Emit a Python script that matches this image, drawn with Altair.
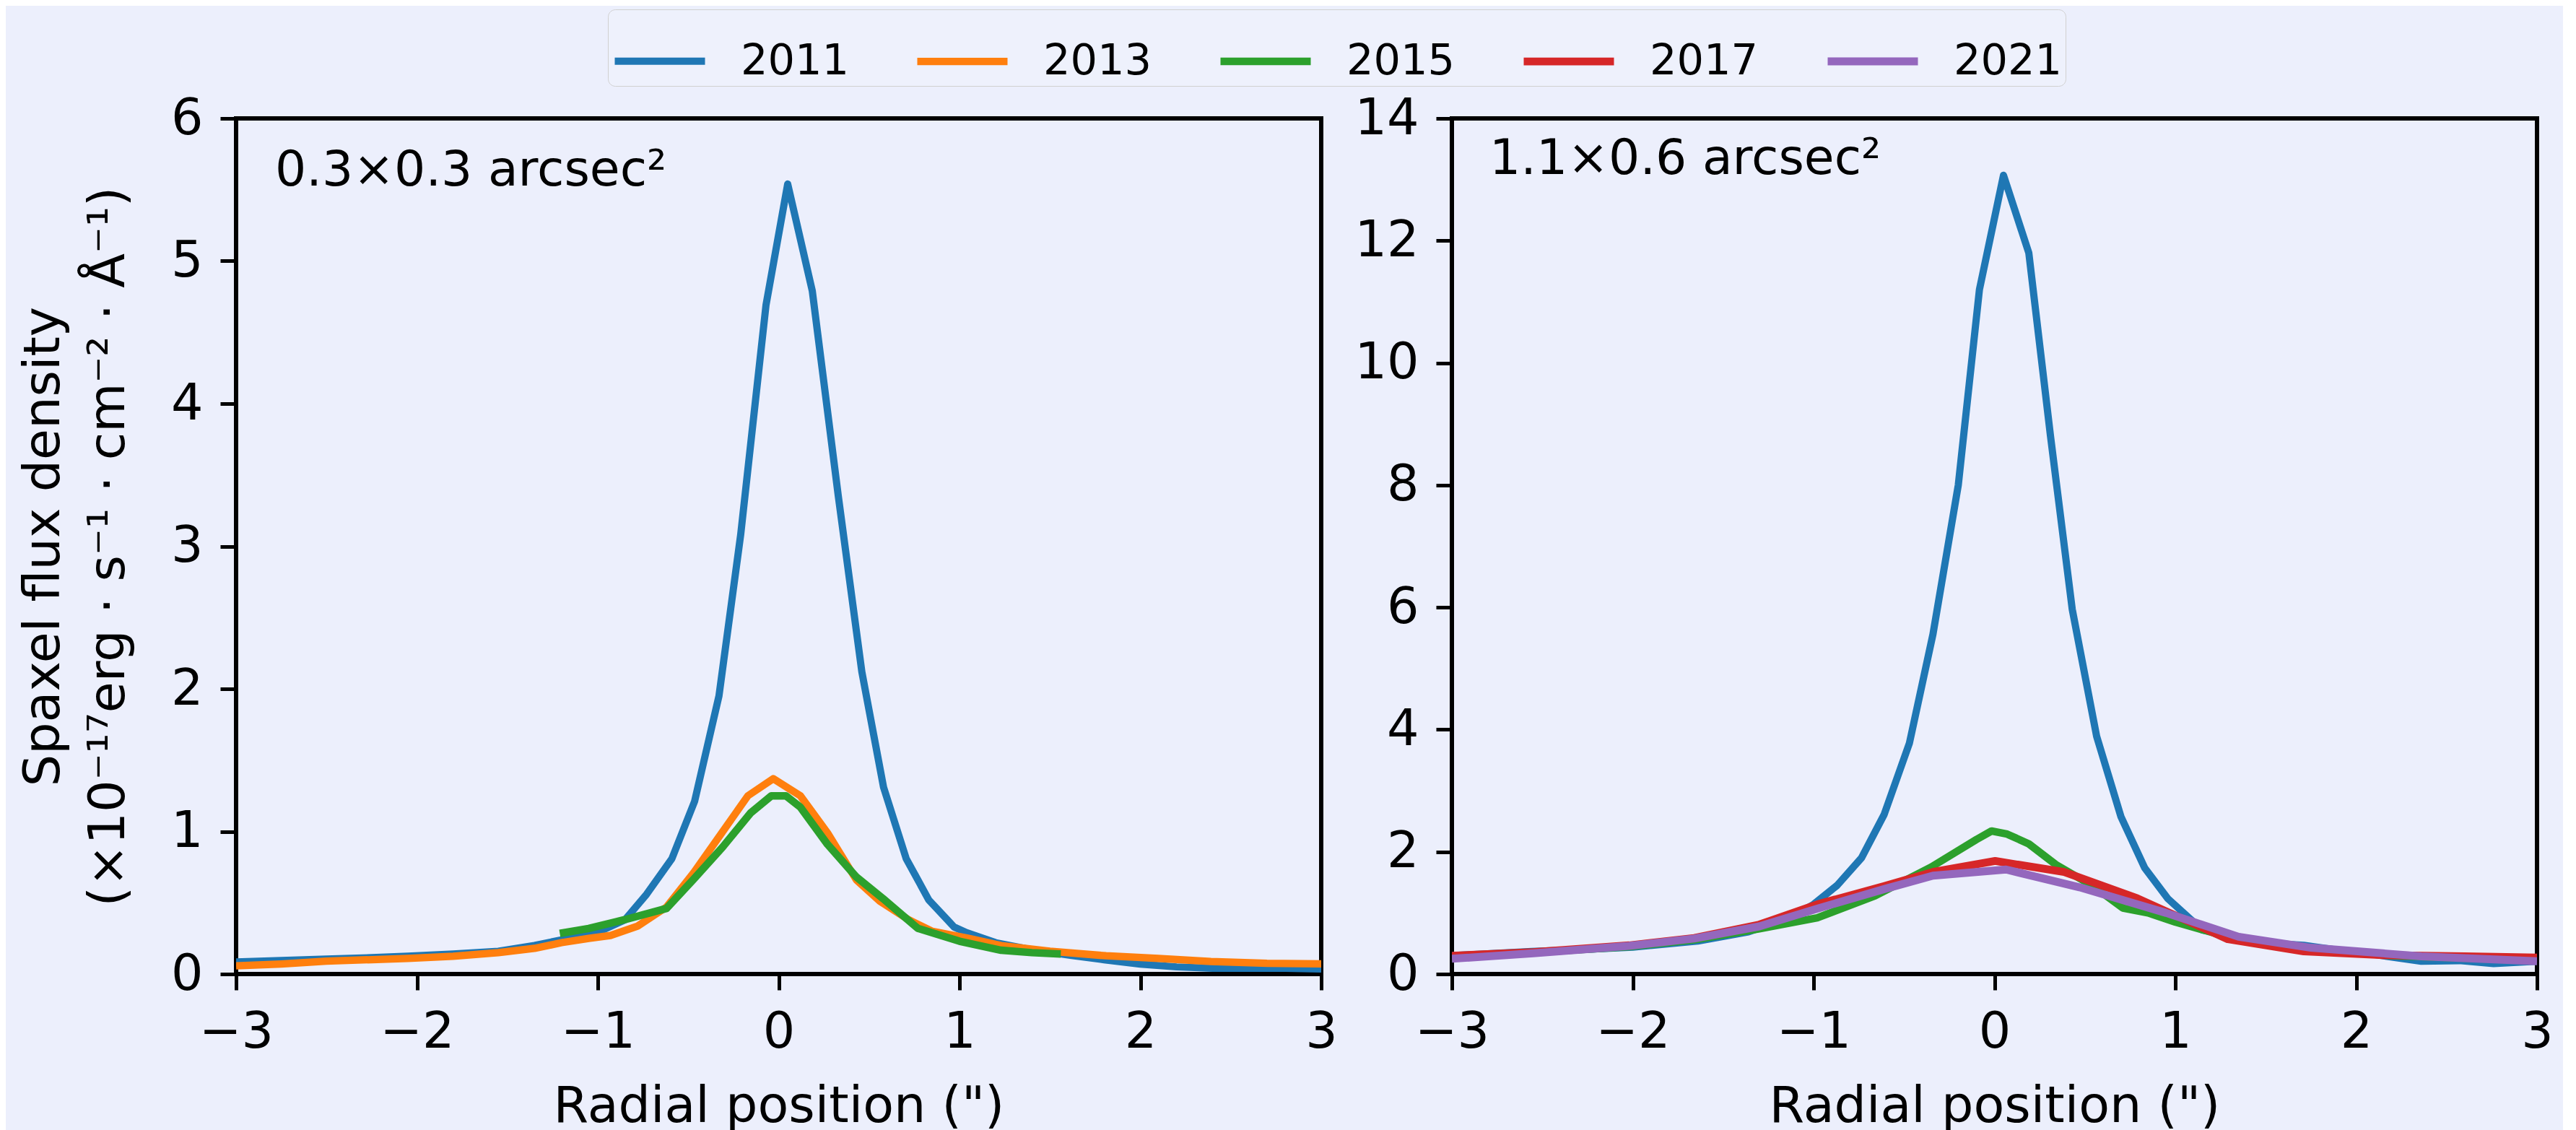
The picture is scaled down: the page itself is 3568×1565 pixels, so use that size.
import altair as alt
import pandas as pd

BG = "#eceffc"
YEARS = ["2011", "2013", "2015", "2017", "2021"]
COLORS = ["#1f77b4", "#ff7f0e", "#2ca02c", "#d62728", "#9467bd"]
WIDTHS = [10, 11, 11, 11, 11]
PANEL_LABELS = ["0.3×0.3 arcsec²", "1.1×0.6 arcsec²"]
X_TICKS = [-3, -2, -1, 0, 1, 2, 3]
Y_TICKS_L = [0, 1, 2, 3, 4, 5, 6]
Y_TICKS_R = [0, 2, 4, 6, 8, 10, 12, 14]

# ---- left panel (0.3x0.3 arcsec^2) ----
L2011_X = [-3.0, -2.75, -2.5, -2.25, -2.05, -1.8, -1.55, -1.35, -1.2, -1.08, -0.97, -0.85,
           -0.73, -0.59, -0.465, -0.33, -0.21, -0.07, 0.05, 0.186, 0.33, 0.46, 0.58, 0.705,
           0.83, 0.97, 1.04, 1.2, 1.4, 1.62, 1.8, 2.0, 2.2, 2.4, 2.6, 2.8, 3.0]
L2011_Y = [0.085, 0.095, 0.105, 0.115, 0.125, 0.14, 0.16, 0.2, 0.24, 0.27, 0.31, 0.38,
           0.56, 0.81, 1.21, 1.95, 3.08, 4.69, 5.54, 4.79, 3.35, 2.12, 1.31, 0.81,
           0.52, 0.33, 0.29, 0.22, 0.17, 0.13, 0.1, 0.07, 0.05, 0.04, 0.04, 0.04, 0.035]

L2013_X = [-3.0, -2.75, -2.5, -2.05, -1.8, -1.55, -1.35, -1.2, -1.05, -0.93, -0.78, -0.62,
           -0.47, -0.32, -0.17, -0.03, 0.12, 0.27, 0.43, 0.56, 0.72, 0.85, 1.05, 1.23,
           1.5, 1.81, 2.1, 2.39, 2.7, 3.0]
L2013_Y = [0.057, 0.07, 0.09, 0.11, 0.125, 0.15, 0.18, 0.22, 0.25, 0.27, 0.336, 0.47,
           0.71, 0.98, 1.25, 1.37, 1.25, 0.99, 0.66, 0.51, 0.38, 0.30, 0.25, 0.20,
           0.16, 0.128, 0.11, 0.088, 0.075, 0.071]

L2015_X = [-1.21, -1.05, -0.855, -0.62, -0.47, -0.31, -0.155, -0.04, 0.04, 0.12, 0.27,
           0.43, 0.576, 0.77, 1.0, 1.23, 1.4, 1.56]
L2015_Y = [0.285, 0.32, 0.38, 0.46, 0.665, 0.89, 1.13, 1.25, 1.25, 1.17, 0.91,
           0.68, 0.53, 0.32, 0.23, 0.167, 0.15, 0.14]

# ---- right panel (1.1x0.6 arcsec^2) ----
R2011_X = [-3.0, -2.56, -2.3, -2.0, -1.64, -1.36, -1.125, -1.0, -0.87, -0.735, -0.61, -0.47,
           -0.34, -0.2, -0.083, 0.05, 0.19, 0.31, 0.43, 0.565, 0.70, 0.83, 0.96, 1.15,
           1.35, 1.55, 1.71, 1.95, 2.1, 2.36, 2.57, 2.76, 3.0]
R2011_Y = [0.3, 0.37, 0.4, 0.44, 0.54, 0.69, 0.93, 1.14, 1.45, 1.9, 2.61, 3.78,
           5.56, 8.0, 11.2, 13.07, 11.8, 8.8, 5.97, 3.89, 2.57, 1.74, 1.23, 0.72,
           0.61, 0.5, 0.47, 0.37, 0.32, 0.21, 0.22, 0.17, 0.21]

R2015_X = [-3.0, -2.55, -2.02, -1.66, -1.3, -0.98, -0.66, -0.35, -0.1, -0.016, 0.07, 0.19,
           0.34, 0.55, 0.71, 0.85, 1.0, 1.3, 1.7, 2.2, 2.6, 3.0]
R2015_Y = [0.26, 0.35, 0.45, 0.56, 0.74, 0.92, 1.28, 1.75, 2.2, 2.34, 2.29, 2.13,
           1.79, 1.43, 1.08, 1.0, 0.85, 0.6, 0.42, 0.3, 0.26, 0.22]

R2017_X = [-3.0, -2.55, -2.02, -1.66, -1.3, -0.98, -0.61, -0.34, 0.004, 0.385, 0.79, 1.29,
           1.71, 2.15, 2.6, 3.0]
R2017_Y = [0.3, 0.36, 0.47, 0.59, 0.81, 1.14, 1.44, 1.67, 1.85, 1.67, 1.24, 0.57,
           0.37, 0.31, 0.29, 0.27]

R2021_X = [-3.0, -2.55, -2.02, -1.66, -1.3, -0.98, -0.61, -0.34, 0.064, 0.47, 0.95, 1.35,
           1.75, 2.36, 3.0]
R2021_Y = [0.25, 0.34, 0.46, 0.58, 0.78, 1.07, 1.39, 1.61, 1.71, 1.42, 1.0, 0.61,
           0.43, 0.29, 0.21]


def series(year, xs, ys):
    return pd.DataFrame({"x": xs, "y": ys, "year": year})


left_df = pd.concat([series("2011", L2011_X, L2011_Y),
                     series("2013", L2013_X, L2013_Y),
                     series("2015", L2015_X, L2015_Y)], ignore_index=True)
right_df = pd.concat([series("2011", R2011_X, R2011_Y),
                      series("2015", R2015_X, R2015_Y),
                      series("2017", R2017_X, R2017_Y),
                      series("2021", R2021_X, R2021_Y)], ignore_index=True)

FONT = "DejaVu Sans"
W, H = 1503, 1185

legend = alt.Legend(
    orient="none", legendX=515, legendY=-151, direction="horizontal", columns=5,
    title=None, symbolType="stroke", symbolSize=15625, symbolStrokeWidth=10,
    labelFontSize=59, labelFont=FONT, labelColor="black", labelOffset=44,
    columnPadding=73, padding=4, strokeColor="#d0d0d0", fillColor="#eef1fc",
    cornerRadius=10,
)
color = alt.Color("year:N", scale=alt.Scale(domain=YEARS, range=COLORS), legend=legend)
width_enc = alt.StrokeWidth("year:N", scale=alt.Scale(domain=YEARS, range=WIDTHS), legend=None)

x_enc = alt.X("x:Q", scale=alt.Scale(domain=[-3, 3], nice=False, zero=False),
              axis=alt.Axis(values=X_TICKS, labelFlush=False, title='Radial position (")'))


def panel(df, ymax, yticks, ytitle, label, lx, ly):
    if ytitle:
        yaxis = alt.Axis(values=yticks, title=ytitle)
    else:
        yaxis = alt.Axis(values=yticks, title=None)
    lines = alt.Chart(df).mark_line(clip=True, strokeJoin="round").encode(
        x=x_enc,
        y=alt.Y("y:Q", scale=alt.Scale(domain=[0, ymax], nice=False), axis=yaxis),
        color=color,
        strokeWidth=width_enc,
    )
    txt = alt.Chart(pd.DataFrame({"t": [label]})).mark_text(
        align="left", baseline="alphabetic", font=FONT, fontSize=68, color="black"
    ).encode(text="t:N", x=alt.value(lx), y=alt.value(ly))
    return alt.layer(lines, txt).properties(width=W, height=H)


left = panel(left_df, 6, Y_TICKS_L,
             ["Spaxel flux density", "(×10⁻¹⁷erg · s⁻¹ · cm⁻² · Å⁻¹)"],
             PANEL_LABELS[0], 54, 93)
right = panel(right_df, 14, Y_TICKS_R, None, PANEL_LABELS[1], 52, 77)

chart = alt.hconcat(left, right, spacing=16).properties(
    padding={"left": 14, "top": 4, "right": 10, "bottom": 0},
    background=BG,
).configure_view(
    stroke="black", strokeWidth=6
).configure_axis(
    domain=False, grid=False, ticks=True, tickSize=22, tickWidth=5, tickColor="black",
    labelFont=FONT, labelFontSize=70, labelColor="black", labelPadding=24,
    titleFont=FONT, titleFontSize=70, titleFontWeight="normal", titleColor="black",
).configure_axisX(
    titlePadding=34
).configure_axisY(
    titlePadding=50, titleLineHeight=90
)

chart.save("out.html", embed_options={"renderer": "svg", "actions": False})
